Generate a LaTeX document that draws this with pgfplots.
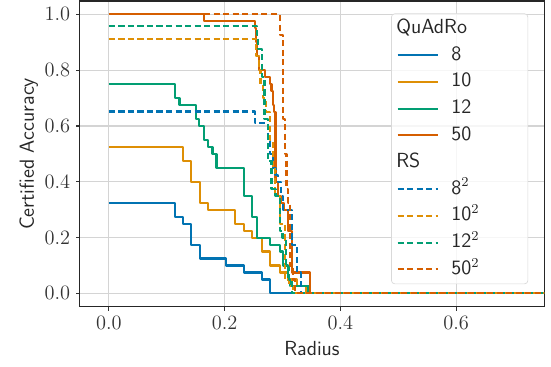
\documentclass[border=0pt]{standalone}
\usepackage{pgfplots}
\pgfplotsset{compat=1.18}
\definecolor{cbblue}{HTML}{0173B2}
\definecolor{cborange}{HTML}{DE8F05}
\definecolor{cbgreen}{HTML}{029E73}
\definecolor{cbred}{HTML}{D55E00}
\newcommand{\lt}[1]{\makebox[40pt][l]{#1}}
\newcommand{\ttl}[1]{\makebox[40pt][l]{\hspace*{-32.4pt}#1}}
\begin{document}
\begin{tikzpicture}
\begin{axis}[
  scale only axis, width=272.9pt, height=179.8pt,
  xmin=-0.05, xmax=0.752, ymin=-0.048, ymax=1.048,
  xtick={0,0.2,0.4,0.6}, ytick={0,0.2,0.4,0.6,0.8,1.0},
  xticklabels={$0.0$,$0.2$,$0.4$,$0.6$},
  yticklabels={$0.0$,$0.2$,$0.4$,$0.6$,$0.8$,$1.0$},
  tick label style={font=\fontsize{12}{14}\selectfont, text=black!80},
  label style={font=\sffamily\fontsize{12}{14}\selectfont, text=black!85},
  xlabel={Radius}, ylabel={Certified Accuracy}, ylabel shift=-3pt,
  grid=major, grid style={line width=0.6pt, black!17},
  axis line style={black!85, line width=0.6pt},
  tick align=outside, major tick length=2.2pt,
  tick style={black!80, line width=0.6pt},
  xtick pos=left, ytick pos=left,
  every axis plot/.append style={line width=1.25pt, line join=round, const plot},
  legend cell align=left,
  legend image code/.code={\draw[#1] (0pt,0pt) -- (23.5pt,0pt);},
  legend style={at={(0.966,0.9595)}, anchor=north east, draw=black!15,
    rounded corners=2pt, fill=white, fill opacity=0.8, text opacity=1,
    font=\sffamily\fontsize{12}{14}\selectfont, text=black!85, row sep=1.76pt,
    column sep=5.5pt, inner xsep=3pt, inner ysep=1.5pt,
    nodes={inner ysep=1pt, text height=9pt, text depth=3pt}},
]
\addlegendimage{empty legend}
\addlegendentry{\ttl{QuAdRo}}
\addplot[cbblue] coordinates {(0,0.325)(0.114,0.275)(0.128,0.25)(0.1425,0.175)(0.157,0.125)(0.202,0.1)(0.233,0.075)(0.265,0.05)(0.279,0)(0.8,0)};
\addlegendentry{\lt{8}}
\addplot[cborange] coordinates {(0,0.525)(0.128,0.475)(0.1425,0.4)(0.157,0.325)(0.171,0.3)(0.2175,0.25)(0.233,0.225)(0.248,0.2)(0.265,0.15)(0.279,0.1)(0.295,0.075)(0.31,0.05)(0.325,0.025)(0.341,0)(0.8,0)};
\addlegendentry{\lt{10}}
\addplot[cbgreen] coordinates {(0,0.75)(0.114,0.7)(0.122,0.675)(0.15,0.625)(0.156,0.6)(0.164,0.55)(0.171,0.525)(0.179,0.5)(0.186,0.45)(0.233,0.35)(0.248,0.275)(0.256,0.2)(0.279,0.175)(0.295,0.15)(0.301,0.1)(0.31,0.05)(0.313,0.025)(0.345,0)(0.8,0)};
\addlegendentry{\lt{12}}
\addplot[cbred] coordinates {(0,1)(0.164,0.975)(0.252,0.95)(0.254,0.9)(0.256,0.85)(0.259,0.8)(0.27,0.775)(0.278,0.75)(0.281,0.725)(0.284,0.675)(0.286,0.65)(0.288,0.4)(0.292,0.35)(0.298,0.325)(0.303,0.3)(0.31,0.225)(0.316,0.075)(0.348,0)(0.8,0)};
\addlegendentry{\lt{50}}
\addlegendimage{empty legend}
\addlegendentry{\ttl{RS}}
\addplot[cbblue, dash pattern=on 3.6pt off 2pt] coordinates {(0,0.652)(0.252,0.61)(0.275,0.55)(0.278,0.5)(0.284,0.45)(0.288,0.425)(0.292,0.4)(0.298,0.35)(0.301,0.3)(0.316,0.175)(0.325,0.075)(0.332,0)(0.8,0)};
\addlegendentry{\lt{8$^2$}}
\addplot[cborange, dash pattern=on 3.6pt off 2pt] coordinates {(0,0.912)(0.255,0.85)(0.259,0.8)(0.262,0.75)(0.266,0.7)(0.272,0.65)(0.278,0.55)(0.283,0.45)(0.287,0.35)(0.295,0.25)(0.304,0.05)(0.312,0.025)(0.318,0)(0.8,0)};
\addlegendentry{\lt{10$^2$}}
\addplot[cbgreen, dash pattern=on 3.6pt off 2pt] coordinates {(0,0.958)(0.256,0.925)(0.258,0.875)(0.264,0.775)(0.269,0.625)(0.275,0.475)(0.281,0.375)(0.288,0.35)(0.295,0.225)(0.30,0.2)(0.306,0.1)(0.312,0.05)(0.316,0)(0.8,0)};
\addlegendentry{\lt{12$^2$}}
\addplot[cbred, dash pattern=on 3.6pt off 2pt] coordinates {(0,1)(0.295,0.925)(0.301,0.625)(0.304,0.5)(0.307,0.375)(0.31,0.325)(0.313,0.1)(0.318,0.05)(0.322,0)(0.8,0)};
\addlegendentry{\lt{50$^2$}}
\end{axis}
\pgfresetboundingbox
\path (current axis.south west) ++(-47pt,-34.9pt) coordinate (bbl);
\path (current axis.north east) ++(4.1pt,0.6pt) coordinate (btr);
\useasboundingbox (bbl) rectangle (btr);
\end{tikzpicture}
\end{document}
